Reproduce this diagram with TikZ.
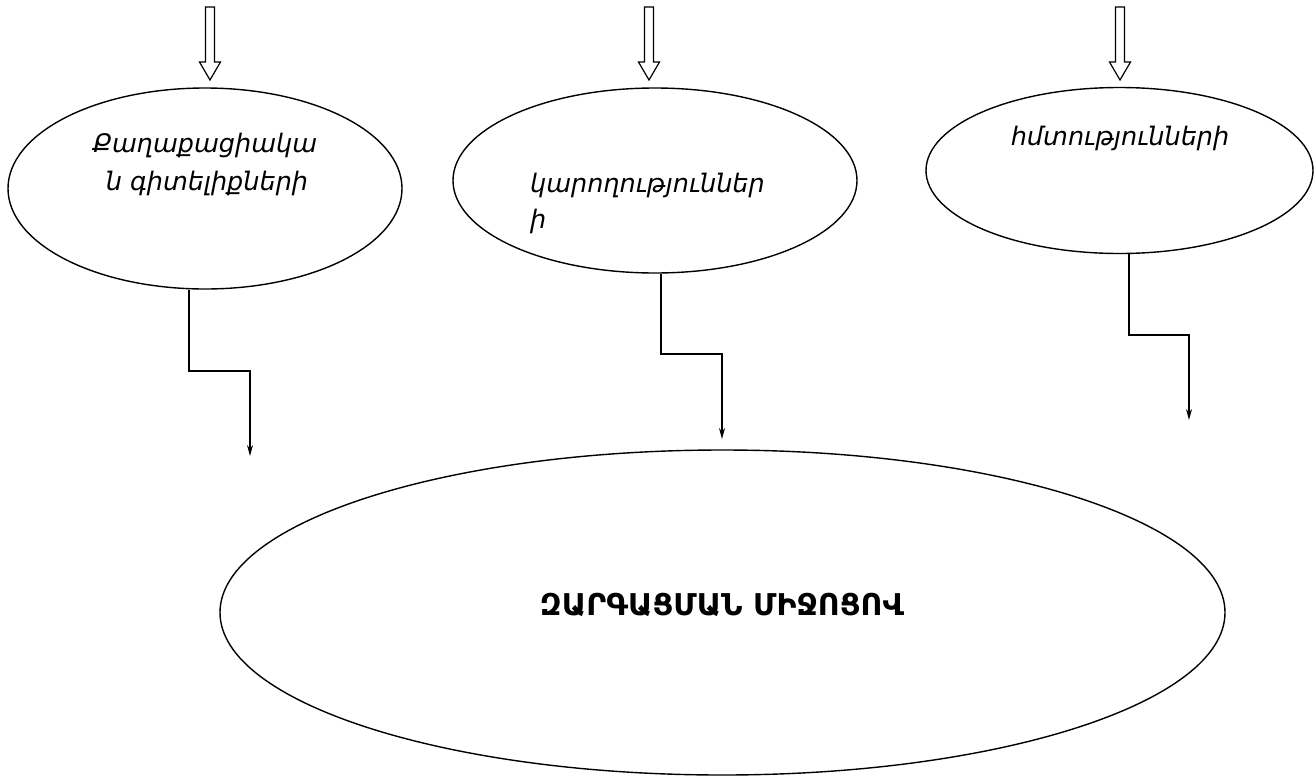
\documentclass[tikz,border=0pt]{standalone}
\usepackage{fontspec}
\setmainfont{DejaVu Sans}
\usetikzlibrary{shapes.geometric,arrows.meta,calc}
\begin{document}
\begin{tikzpicture}[x=1pt,y=-1pt,
  oval/.style={draw,ellipse,line width=1.4pt,inner sep=0pt},
  conn/.style={line width=1.4pt,-{Stealth[length=11pt,width=6pt]}},
  label/.style={font=\fontsize{25.5}{36}\selectfont\itshape,anchor=base,inner sep=0pt}]
\useasboundingbox (0,0) rectangle (1315,777);
% ellipses
\node[oval,minimum width=394pt,minimum height=201pt] (e1) at (205,188.5) {};
\node[oval,minimum width=404pt,minimum height=185pt] (e2) at (655,180.5) {};
\node[oval,minimum width=387pt,minimum height=166pt] (e3) at (1119.5,170.5) {};
\node[oval,minimum width=1005pt,minimum height=325pt] (e4) at (722.5,612.5) {};
% texts
\node[label] (t1a) at (205,152) {Քաղաքացիակա};
\node[label] (t1b) at (207,190) {ն գիտելիքների};
\node[label,anchor=base west] (t2a) at (530,192) {կարողություններ};
\node[label,anchor=base west] (t2b) at (530,228) {ի};
\node[label] (t3) at (1120,145) {հմտությունների};
\node[font=\fontsize{30}{32}\selectfont\bfseries] (t4) at (722,605) {ԶԱՐԳԱՑՄԱՆ ՄԻՋՈՑՈՎ};
% hollow arrows on top
\foreach \e/\xx in {e1/210,e2/649,e3/1120}{
  \draw[line width=1.2pt,line join=miter]
    ($(\xx,7)$) -- ($(\xx+4.5,7)$) -- ($(\xx+4.5,62)$) -- ($(\xx+10.5,62)$)
    -- ($(\xx,80)$) -- ($(\xx-10.5,62)$) -- ($(\xx-4.5,62)$) -- ($(\xx-4.5,7)$) -- cycle;
}
% connectors
\coordinate (a1) at (250,456);
\coordinate (a2) at (722,439);
\coordinate (a3) at (1189,420);
\draw[conn] (e1.south -| 189,0) -- (189,371) -- (250,371) -- (a1);
\draw[conn] (e2.south -| 661,0) -- (661,354) -- (722,354) -- (a2);
\draw[conn] (e3.south -| 1129,0) -- (1129,335) -- (1189,335) -- (a3);
\end{tikzpicture}
\end{document}
